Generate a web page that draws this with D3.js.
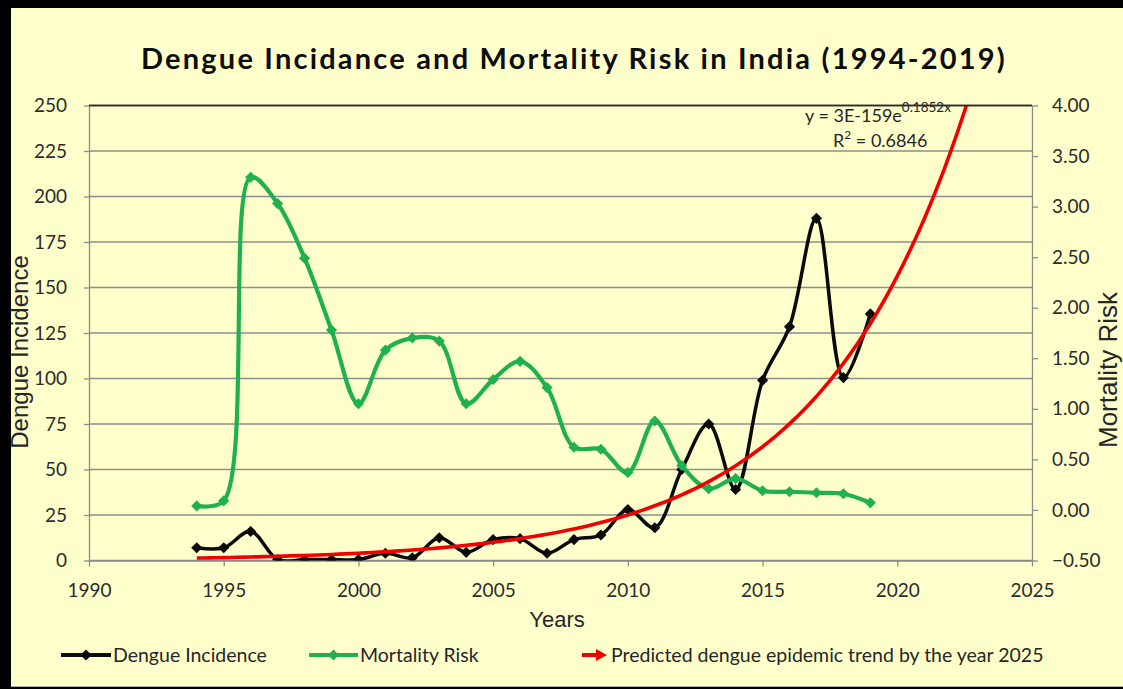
<!DOCTYPE html>
<html>
<head>
<meta charset="utf-8">
<script src="https://cdnjs.cloudflare.com/ajax/libs/d3/7.8.5/d3.min.js"></script>
<style>
  body { margin: 0; background: #fff; }
  svg { display: block; }
  .axis text { font-family: Lato, "Open Sans", sans-serif; font-size: 19px; fill: #2b2b2b; }
  .axis path, .axis line { stroke: #8c8c8c; stroke-width: 1.3; }
  .grid line { stroke: #8c8c8c; stroke-width: 1.3; }
  .axistitle { font-family: "Liberation Sans", Arial, sans-serif; fill: #262626; }
  .legend { font-family: Lato, "Open Sans", sans-serif; font-size: 19.5px; fill: #262626; }
</style>
</head>
<body>
<div id="chart"></div>
<script>
// DATA
var years = [1994, 1995, 1996, 1997, 1998, 1999, 2000, 2001, 2002, 2003, 2004, 2005, 2006,
             2007, 2008, 2009, 2010, 2011, 2012, 2013, 2014, 2015, 2016, 2017, 2018, 2019];
var dengueIncidence = [7, 7, 16, 0.5, 0.5, 0.5, 0.5, 4, 1.5, 12.5, 4.5, 11.5, 12,
                       4, 11.5, 14, 28, 18, 50, 75, 39, 99, 128.5, 188, 100.5, 135.5];
var mortalityRisk = [0.04, 0.09, 3.29, 3.03, 2.49, 1.78, 1.05, 1.58, 1.70, 1.67, 1.05, 1.29, 1.47,
                     1.21, 0.62, 0.60, 0.37, 0.88, 0.44, 0.21, 0.31, 0.19, 0.18, 0.17, 0.16, 0.07];
// exponential trendline of dengue incidence, y = a * e^(b*x)
var trendA = 3e-159, trendB = 0.1832;
var trendRange = [1994, 2025];

var xTicks = [1990, 1995, 2000, 2005, 2010, 2015, 2020, 2025];
var leftTicks = [0, 25, 50, 75, 100, 125, 150, 175, 200, 225, 250];
var rightTicks = [-0.5, 0, 0.5, 1, 1.5, 2, 2.5, 3, 3.5, 4];

var LABELS = {
  title: "Dengue Incidance and Mortality Risk in India (1994-2019)",
  x: "Years",
  left: "Dengue Incidence",
  right: "Mortality Risk",
  dengue: "Dengue Incidence",
  mortality: "Mortality Risk",
  trend: "Predicted dengue epidemic trend by the year 2025",
  eq: "y = 3E-159e",
  eqExp: "0.1852x",
  r2: " = 0.6846"
};

var W = 1123, H = 689;
var plot = { left: 89, right: 1032, top: 105.5, bottom: 560.5 };

var svg = d3.select('#chart').append('svg')
  .attr('width', W)
  .attr('height', H);

// frame + background
svg.append('rect').attr('width', W).attr('height', H).attr('fill', '#000');
svg.append('rect')
  .attr('x', 11).attr('y', 8)
  .attr('width', W - 11).attr('height', 678)
  .attr('fill', '#ffffcc');
svg.append('line')
  .attr('x1', 11).attr('x2', W).attr('y1', 686.5).attr('y2', 686.5)
  .attr('stroke', '#b0b0a0').attr('stroke-width', 1);

//SCALES
var x = d3.scaleLinear().domain([1990, 2025]).range([plot.left, plot.right]);
var yL = d3.scaleLinear().domain([0, 250]).range([plot.bottom, plot.top]);
var yR = d3.scaleLinear().domain([-0.5, 4]).range([plot.bottom, plot.top]);

svg.append('defs').append('clipPath').attr('id', 'plotclip')
  .append('rect')
  .attr('x', plot.left).attr('y', plot.top)
  .attr('width', plot.right - plot.left).attr('height', plot.bottom - plot.top);

// gridlines
svg.append('g')
  .attr('class', 'grid')
  .selectAll('line')
  .data(leftTicks)
  .enter().append('line')
  .attr('x1', plot.left).attr('x2', plot.right)
  .attr('y1', function(d) { return yL(d); })
  .attr('y2', function(d) { return yL(d); })
  .style('stroke', function(d) { return d == 250 ? '#2a2a2a' : null; });

//AXES
svg.append('g')
  .attr('class', 'axis axis--y')
  .attr('transform', 'translate(' + plot.left + ',0)')
  .call(d3.axisLeft(yL).tickValues(leftTicks).tickSize(5).tickSizeOuter(0).tickPadding(17));

svg.append('g')
  .attr('class', 'axis axis--y2')
  .attr('transform', 'translate(' + plot.right + ',0)')
  .call(d3.axisRight(yR).tickValues(rightTicks).tickSize(6).tickSizeOuter(0).tickPadding(14)
    .tickFormat(d3.format('.2f')));

svg.append('g')
  .attr('class', 'axis axis--x')
  .attr('transform', 'translate(0,' + plot.bottom + ')')
  .call(d3.axisBottom(x).tickValues(xTicks).tickSize(6).tickSizeOuter(0).tickPadding(17)
    .tickFormat(d3.format('d')));

// TITLES
svg.append('text')
  .attr('x', 574).attr('y', 69)
  .attr('text-anchor', 'middle')
  .style('font-family', 'Lato, "Open Sans", sans-serif')
  .style('font-weight', 'bold')
  .style('font-size', '29px')
  .style('letter-spacing', '2.2px')
  .style('fill', '#0d0d0d')
  .text(LABELS.title);

svg.append('text')
  .attr('class', 'axistitle')
  .attr('x', 557).attr('y', 627)
  .attr('text-anchor', 'middle')
  .style('font-size', '22px')
  .text(LABELS.x);

svg.append('text')
  .attr('class', 'axistitle')
  .attr('transform', 'translate(28,352) rotate(-90)')
  .attr('text-anchor', 'middle')
  .style('font-size', '24px')
  .text(LABELS.left);

svg.append('text')
  .attr('class', 'axistitle')
  .attr('transform', 'translate(1117,370) rotate(-90)')
  .attr('text-anchor', 'middle')
  .style('font-size', '26px')
  .text(LABELS.right);

// SERIES
var dengueData = years.map(function(d, i) { return { year: d, value: dengueIncidence[i] }; });
var mortalityData = years.map(function(d, i) { return { year: d, value: mortalityRisk[i] }; });
var trendData = d3.range(trendRange[0], trendRange[1] + 0.001, 0.25).map(function(t) {
  return { year: t, value: trendA * Math.exp(trendB * t) };
});

var series = svg.append('g').attr('clip-path', 'url(#plotclip)');

var diamond = d3.symbol().type(d3.symbolSquare).size(62);

function drawSeries(data, yScale, color, width) {
  var line = d3.line()
    .curve(d3.curveCatmullRom.alpha(0.5))
    .x(function(d) { return x(d.year); })
    .y(function(d) { return yScale(d.value); });
  series.append('path')
    .datum(data)
    .attr('fill', 'none')
    .attr('stroke', color)
    .attr('stroke-width', width)
    .attr('stroke-linejoin', 'round')
    .attr('d', line);
  series.selectAll(null)
    .data(data)
    .enter().append('path')
    .attr('d', diamond)
    .attr('fill', color)
    .attr('transform', function(d) {
      return 'translate(' + x(d.year) + ',' + yScale(d.value) + ') rotate(45)';
    });
}

drawSeries(dengueData, yL, '#0a0a0a', 3.5);
drawSeries(mortalityData, yR, '#1fb04f', 4.2);

series.append('path')
  .datum(trendData)
  .attr('fill', 'none')
  .attr('stroke', '#f00000')
  .attr('stroke-width', 3.6)
  .attr('d', d3.line()
    .x(function(d) { return x(d.year); })
    .y(function(d) { return yL(d.value); }));

// equation
var eq = svg.append('text')
  .attr('class', 'legend')
  .attr('x', 805).attr('y', 122)
  .style('font-size', '18px');
eq.append('tspan').text(LABELS.eq);
eq.append('tspan').attr('dy', -10).style('font-size', '13.5px').text(LABELS.eqExp);

var r2 = svg.append('text')
  .attr('class', 'legend')
  .attr('x', 833).attr('y', 147)
  .style('font-size', '18px');
r2.append('tspan').text('R');
r2.append('tspan').attr('dy', -8).style('font-size', '12px').text('2');
r2.append('tspan').attr('dy', 8).text(LABELS.r2);

// top border line drawn over the equation
svg.append('line')
  .attr('x1', plot.left).attr('x2', plot.right)
  .attr('y1', plot.top).attr('y2', plot.top)
  .attr('stroke', '#2a2a2a').attr('stroke-width', 1.3);

//LEGEND
var legendY = 655;
var legendItems = [
  { x1: 61, x2: 111, color: '#0a0a0a', label: LABELS.dengue, marker: true },
  { x1: 309, x2: 358, color: '#1fb04f', label: LABELS.mortality, marker: true },
  { x1: 582, x2: 598, color: '#f00000', label: LABELS.trend, marker: false }
];

var legend = svg.append('g');
legendItems.forEach(function(d) {
  legend.append('line')
    .attr('x1', d.x1).attr('x2', d.x2)
    .attr('y1', legendY).attr('y2', legendY)
    .attr('stroke', d.color)
    .attr('stroke-width', 4);
  if (d.marker) {
    legend.append('path')
      .attr('d', diamond)
      .attr('fill', d.color)
      .attr('transform', 'translate(' + (d.x1 + d.x2) / 2 + ',' + legendY + ') rotate(45)');
    legend.append('text')
      .attr('class', 'legend')
      .attr('x', d.x2 + 2).attr('y', legendY + 7)
      .text(d.label);
  } else {
    legend.append('path')
      .attr('d', 'M' + (d.x2 - 2) + ',' + (legendY - 6) + 'L' + (d.x2 + 9) + ',' + legendY +
                 'L' + (d.x2 - 2) + ',' + (legendY + 6) + 'Z')
      .attr('fill', d.color);
    legend.append('text')
      .attr('class', 'legend')
      .attr('x', d.x2 + 13).attr('y', legendY + 7)
      .text(d.label);
  }
});
</script>
</body>
</html>
